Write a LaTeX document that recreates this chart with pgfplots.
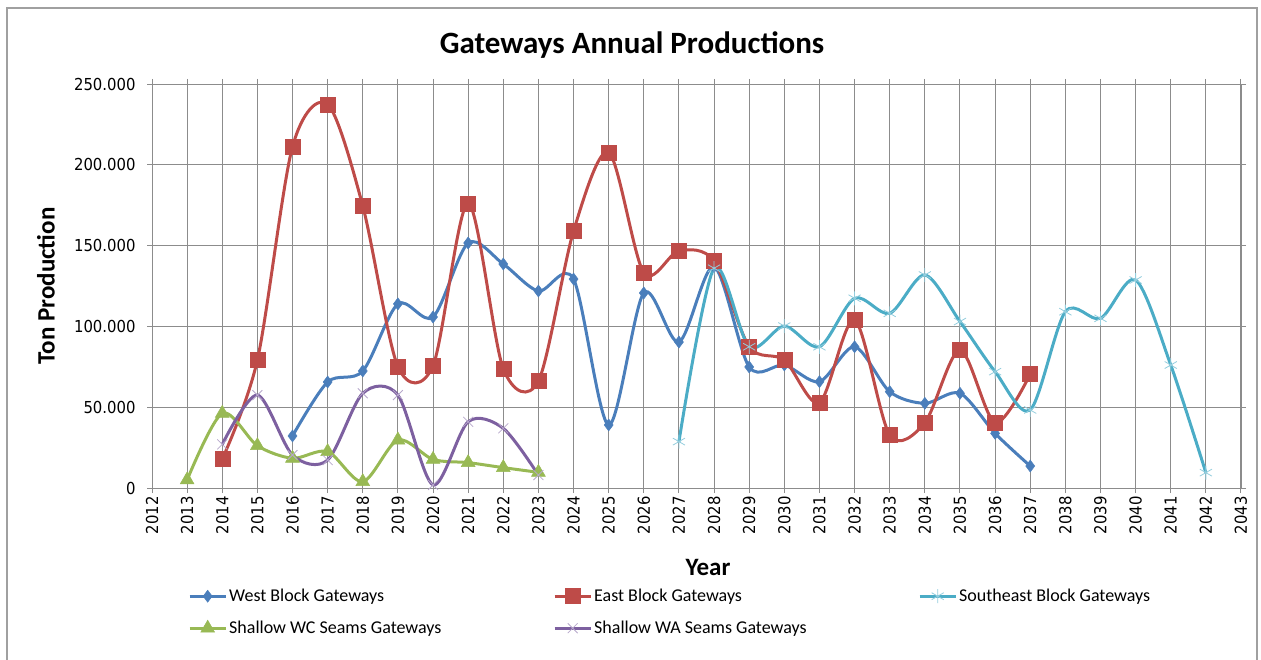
\documentclass[border=0pt]{standalone}
\usepackage{fontspec}
\setmainfont{Carlito}
\newfontfamily\tickfont{DejaVu Sans Condensed}
\usepackage{pgfplots}
\pgfplotsset{compat=1.18}
\definecolor{cwest}{HTML}{4A7EBB}
\definecolor{ceast}{HTML}{BE4B48}
\definecolor{cse}{HTML}{4BACC6}
\definecolor{cwc}{HTML}{98B954}
\definecolor{cwa}{HTML}{7D60A0}
\definecolor{gridc}{HTML}{8C8C8C}
\definecolor{framec}{HTML}{A0A0A0}
\begin{document}
\begin{tikzpicture}
\useasboundingbox (0pt,0pt) rectangle (1261pt,659pt);
\draw[framec, line width=1.5pt] (7pt,-5pt) rectangle (1257pt,651pt);
\begin{axis}[
  at={(152pt,171pt)}, anchor=south west, scale only axis,
  width=1089pt, height=404pt,
  xmin=2012, xmax=2043, ymin=0, ymax=250000,
  xtick={2012,...,2043}, ytick={0,50000,...,250000},
  grid=major, major grid style={gridc, line width=0.9pt},
  axis line style={gridc, line width=0.9pt}, tick style={gridc, line width=0.9pt},
  tick align=outside, major tick length=5pt,
  scaled y ticks=false,
  /pgf/number format/assume math mode=true,
  xticklabel style={font=\tickfont\fontsize{16.5}{16.5}\selectfont, rotate=90, anchor=east, /pgf/number format/1000 sep={}},
  yticklabel style={font=\tickfont\fontsize{16.5}{16.5}\selectfont, xshift=-8pt, /pgf/number format/.cd, fixed, precision=0, 1000 sep={.}},
  title={Gateways Annual Productions},
  title style={font=\bfseries\fontsize{31}{31}\selectfont, at={(rel axis cs:0.4408,1)}, anchor=center, yshift=33pt},
  xlabel={Year},
  xlabel style={font=\bfseries\fontsize{25}{25}\selectfont, at={(rel axis cs:0.5106,0)}, anchor=center, yshift=-79pt},
  ylabel={Ton Production},
  ylabel style={font=\bfseries\fontsize{25}{25}\selectfont, at={(rel axis cs:0,0.5)}, anchor=center, yshift=106pt},
  legend columns=3,
  legend style={at={(rel axis cs:0,0)}, anchor=north west, xshift=36pt, yshift=-99pt, draw=none, fill=none, inner sep=0pt,
    font=\fontsize{18}{18}\selectfont, row sep=14pt, nodes={inner sep=2pt}},
  legend cell align=left,
  legend image code/.code={\draw[mark repeat=2,mark phase=2,#1] plot coordinates {(0pt,0pt) (18pt,0pt) (36pt,0pt)};},
  every axis plot/.append style={line width=3pt, smooth},
]
\addplot[cwest, mark=diamond*, mark size=6pt, mark options={line width=0.5pt, fill=cwest}] coordinates {
(2016,32200) (2017,65600) (2018,72400) (2019,113900) (2020,105800) (2021,151600) (2022,138600) (2023,121900)
(2024,129300) (2025,39000) (2026,120700) (2027,90300) (2028,137000) (2029,74900) (2030,76100) (2031,65800)
(2032,87400) (2033,59600) (2034,52400) (2035,58600) (2036,33800) (2037,13600)};
\addlegendentry{\makebox[322pt][l]{West Block Gateways}}
\addplot[ceast, mark=square*, mark size=7.5pt, mark options={line width=0.5pt, fill=ceast}] coordinates {
(2014,17900) (2015,79200) (2016,211200) (2017,237400) (2018,174500) (2019,75100) (2020,75700) (2021,176200)
(2022,73800) (2023,66200) (2024,159000) (2025,207700) (2026,133200) (2027,146800) (2028,140500) (2029,87400)
(2030,79200) (2031,52800) (2032,104000) (2033,32800) (2034,40400) (2035,85400) (2036,40400) (2037,70500)};
\addlegendentry{\makebox[322pt][l]{East Block Gateways}}
\addplot[cse, mark=asterisk, mark size=7pt, mark options={line width=0.8pt, draw=cse!60}] coordinates {
(2027,28700) (2028,136000) (2029,87400) (2030,100200) (2031,87400) (2032,117400) (2033,108100) (2034,131800)
(2035,103000) (2036,72000) (2037,48300) (2038,109100) (2039,105000) (2040,128700) (2041,76100) (2042,9500)};
\addlegendentry{Southeast Block Gateways}
\addplot[cwc, mark=triangle*, mark size=8pt, mark options={line width=0.5pt, fill=cwc}] coordinates {
(2013,5000) (2014,46200) (2015,26200) (2016,18400) (2017,22500) (2018,3900) (2019,29700) (2020,17700)
(2021,15700) (2022,12600) (2023,9700)};
\addlegendentry{\makebox[322pt][l]{Shallow WC Seams Gateways}}
\addplot[cwa, mark=x, mark size=7pt, mark options={line width=0.8pt, draw=cwa!55}] coordinates {
(2014,27000) (2015,57500) (2016,20400) (2017,17300) (2018,58600) (2019,57500) (2020,1900) (2021,41000)
(2022,36900) (2023,8000)};
\addlegendentry{\makebox[322pt][l]{Shallow WA Seams Gateways}}
\end{axis}
\end{tikzpicture}
\end{document}
